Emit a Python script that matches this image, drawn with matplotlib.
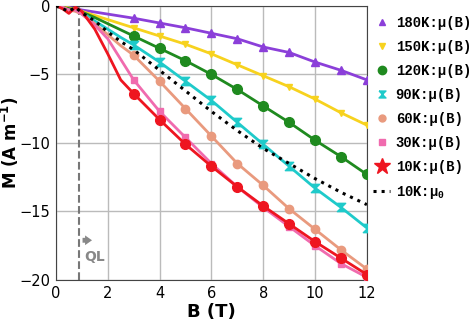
import matplotlib
matplotlib.use("Agg")
import matplotlib.pyplot as plt
from matplotlib.lines import Line2D

# field values (T)
B = [0, 0.25, 0.5, 0.75, 1, 1.5, 2, 2.5, 3, 4, 5, 6, 7, 8, 9, 10, 11, 12]

M_180 = [0, -0.05, -0.1, -0.2, -0.3, -0.45, -0.6, -0.75, -0.9, -1.25, -1.6, -2.0, -2.4, -3.0, -3.4, -4.1, -4.7, -5.4]
M_150 = [0, -0.05, -0.15, -0.25, -0.4, -0.7, -1.0, -1.3, -1.6, -2.2, -2.8, -3.5, -4.3, -5.1, -5.9, -6.8, -7.8, -8.7]
M_120 = [0, -0.1, -0.2, -0.3, -0.45, -0.85, -1.3, -1.75, -2.2, -3.1, -4.0, -5.0, -6.1, -7.3, -8.5, -9.8, -11.0, -12.3]
M_90 = [0, -0.2, -0.3, -0.35, -0.5, -1.1, -1.7, -2.3, -2.85, -4.1, -5.5, -6.9, -8.5, -10.1, -11.7, -13.3, -14.7, -16.2]
M_60 = [0, -0.1, -0.3, -0.4, -0.6, -1.3, -2.1, -2.9, -3.6, -5.5, -7.5, -9.5, -11.5, -13.1, -14.8, -16.3, -17.8, -19.2]
M_30 = [0, -0.1, -0.3, -0.3, -0.6, -1.4, -2.4, -3.9, -5.4, -7.7, -9.6, -11.5, -13.2, -14.7, -16.1, -17.5, -18.8, -19.8]
M_10 = [0, -0.2, -0.55, -0.1, -0.4, -1.7, -3.5, -5.4, -6.4, -8.3, -10.1, -11.7, -13.2, -14.6, -15.9, -17.2, -18.4, -19.6]
M_mu0 = [0, -0.2, -0.4, -0.1, -0.5, -1.1, -1.9, -2.6, -3.2, -4.7, -6.2, -7.7, -9.1, -10.4, -11.5, -12.6, -13.6, -14.5]

labels = ["180K:\u03bc(B)", "150K:\u03bc(B)", "120K:\u03bc(B)", "90K:\u03bc(B)",
          "60K:\u03bc(B)", "30K:\u03bc(B)", "10K:\u03bc(B)", "10K:$\\mathregular{\\mu_0}$"]

hourglass = [(-1, 1), (1, 1), (-1, -1), (1, -1), (-1, 1)]

series = [
    (M_180, "#8B3FD9", "^", 6),
    (M_150, "#F7D21E", "v", 5),
    (M_120, "#1F8A1F", "o", 7),
    (M_90, "#1FCACA", hourglass, 6),
    (M_60, "#E99A7E", "o", 6),
    (M_30, "#F06BAE", "s", 5),
    (M_10, "#EE1520", "o", 7),
]

plt.rcParams['font.family'] = 'DejaVu Sans'
fig = plt.figure(figsize=(4.74, 3.26), dpi=100)
ax = fig.add_axes([0.118, 0.141, 0.656, 0.841])

marks = list(range(8, len(B)))
handles = []
for (M, c, mk, ms), lab in zip(series, labels):
    ax.plot(B, M, color=c, lw=2, marker=mk, ms=ms, markevery=marks, zorder=3)
    if lab.startswith("10K"):
        handles.append(Line2D([], [], color=c, ls='none', marker='*', ms=12, label=lab))
    else:
        handles.append(Line2D([], [], color=c, ls='none', marker=mk, ms=ms - 1, label=lab))

ax.plot(B, M_mu0, color='black', ls=':', lw=2.2, zorder=4)
handles.append(Line2D([], [], color='black', ls=':', lw=2.2, label=labels[-1]))

ax.axvline(0.9, color='#777777', ls='--', lw=1.5, zorder=2)
ax.annotate("", xy=(1.5, -17.1), xytext=(0.92, -17.1),
            arrowprops=dict(arrowstyle="simple,head_width=0.7,head_length=0.5,tail_width=0.35",
                            color='#888888', lw=0))
ax.text(1.1, -18.3, "QL", color='#888888', fontsize=10, fontweight='bold', va='center')

ax.set_xlim(0, 12)
ax.set_ylim(-20, 0)
ax.set_xticks([0, 2, 4, 6, 8, 10, 12])
ax.set_yticks([0, -5, -10, -15, -20])
ax.grid(True, color='#BBBBBB', lw=1)
ax.set_axisbelow(True)
ax.tick_params(labelsize=10.5, length=0, pad=4)
for s in ax.spines.values():
    s.set_color('#444444')
ax.set_xlabel("B (T)", fontsize=13, fontweight='bold', labelpad=2)
ax.set_ylabel("M (A m$^{\\mathbf{-1}}$)", fontsize=12, fontweight='bold')
ax.yaxis.set_label_coords(-0.112, 0.5)

leg = ax.legend(handles=handles, loc='upper left', bbox_to_anchor=(0.99, 1.0),
                frameon=False, prop={'family': 'Liberation Mono', 'weight': 'bold', 'size': 10},
                handlelength=1.2, handletextpad=0.4, labelspacing=0.72, borderaxespad=0.3)

fig.savefig("out.png", dpi=100)
